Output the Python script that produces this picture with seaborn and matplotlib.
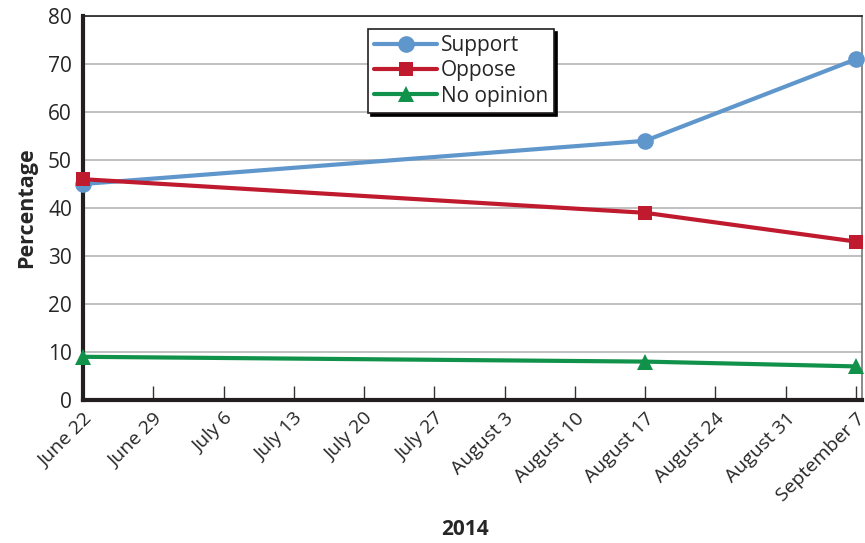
import matplotlib
matplotlib.use("Agg")
import matplotlib.pyplot as plt
import seaborn as sns
import pandas as pd

days = [0, 56, 77]
tick_days = [0, 7, 14, 21, 28, 35, 42, 49, 56, 63, 70, 77]
tick_labels = ["June 22", "June 29", "July 6", "July 13", "July 20", "July 27",
               "August 3", "August 10", "August 17", "August 24", "August 31", "September 7"]
support = [45, 54, 71]
oppose = [46, 39, 33]
no_opinion = [9, 8, 7]

sns.set_theme(style="white")
plt.rcParams['font.family'] = ['Open Sans', 'DejaVu Sans']

fig = plt.figure(figsize=(8.65, 5.43), dpi=100)
ax = fig.add_axes([83/865, 1-400/543, (862-83)/865, (400-16)/543])

series = [
    ("Support", support, "#5f97cc", "o", 12),
    ("Oppose", oppose, "#c01a2e", "s", 10.5),
    ("No opinion", no_opinion, "#10924a", "^", 12),
]
for name, vals, col, mk, ms in series:
    df = pd.DataFrame({"day": days, "val": vals})
    sns.lineplot(data=df, x="day", y="val", ax=ax, color=col, marker=mk,
                 markersize=ms, markeredgewidth=0, linewidth=3, label=name,
                 clip_on=False, zorder=3)

ax.set_xlim(0, 77.6)
ax.set_ylim(0, 80)
ax.set_yticks(range(0, 81, 10))
ax.set_xticks(tick_days)
ax.set_xticklabels(tick_labels, rotation=45, ha="right", va="top",
                   rotation_mode="anchor")
ax.tick_params(axis="x", direction="in", length=10, width=1, color="#333333",
               labelsize=14, pad=7, bottom=True)
ax.tick_params(axis="y", length=0, labelsize=15, pad=8)
ax.yaxis.grid(True, color="#b5b5b5", linewidth=1.2)
ax.set_axisbelow(True)

for s in ["left", "bottom"]:
    ax.spines[s].set_color("#231f20")
    ax.spines[s].set_linewidth(3)
ax.spines["top"].set_color("#231f20")
ax.spines["top"].set_linewidth(1.2)
ax.spines["right"].set_color("#777777")
ax.spines["right"].set_linewidth(1.2)

ax.set_ylabel("Percentage", fontweight="bold", fontsize=15.5, labelpad=8)
ax.set_xlabel("2014", fontweight="bold", fontsize=15, va="center")
ax.xaxis.set_label_coords(0.49, -0.337)

leg = ax.legend(loc="upper left", bbox_to_anchor=((368-83)/779, (400-29)/384),
                frameon=True, fancybox=False, edgecolor="#231f20",
                shadow={"color": "black", "alpha": 1}, fontsize=15,
                handlelength=3.0, handletextpad=0.2, borderpad=0.3,
                labelspacing=0.2, borderaxespad=0)
leg.get_frame().set_linewidth(1.2)

fig.savefig("out.png", dpi=100)
